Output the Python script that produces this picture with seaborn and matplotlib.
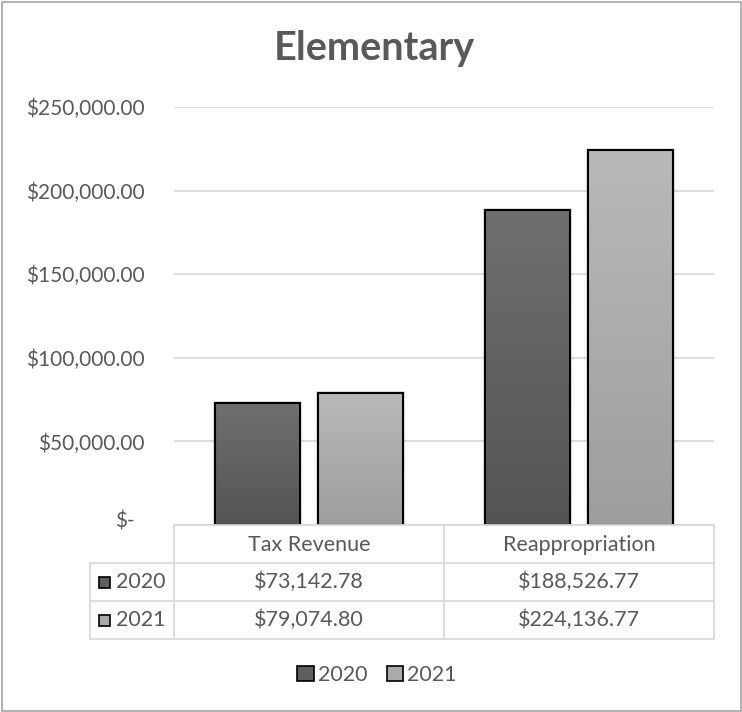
import numpy as np
import pandas as pd
import matplotlib
matplotlib.use("Agg")
import matplotlib.pyplot as plt
import seaborn as sns
from matplotlib.patches import Rectangle
from matplotlib.lines import Line2D
from matplotlib.ticker import FuncFormatter

# Data
categories = ["Tax Revenue", "Reappropriation"]
years = ["2020", "2021"]
values_2020 = [73142.78, 188526.77]
values_2021 = [79074.80, 224136.77]
y_ticks = [0, 50000, 100000, 150000, 200000, 250000]

df = pd.DataFrame({
    "category": categories * 2,
    "year": [years[0]] * 2 + [years[1]] * 2,
    "value": values_2020 + values_2021,
})

sns.set_theme(style="white")
plt.rcParams["font.family"] = ["Lato", "DejaVu Sans"]
text_color = "#595959"
grid_color = "#d9d9d9"
fs = 15.5

W, H = 742, 712
fig = plt.figure(figsize=(W / 100, H / 100), dpi=100)
fig.patch.set_facecolor("white")

def fx(px):
    return px / W

def fy(py):
    return 1 - py / H

left, right, top, bottom = 174, 714, 107, 525
ax = fig.add_axes([fx(left), fy(bottom), fx(right - left), (bottom - top) / H])

top_cols = {"2020": "#6f6f6f", "2021": "#b9b9b9"}
bot_cols = {"2020": "#545454", "2021": "#9e9e9e"}
palette = {"2020": "#5f5f5f", "2021": "#aaaaaa"}

sns.barplot(data=df, x="category", y="value", hue="year", order=categories,
            hue_order=years, palette=palette, width=0.763, gap=0.184,
            edgecolor="black", linewidth=1.5, legend=False, ax=ax, zorder=3)

ax.set_ylim(0, 250000)
ax.set_xlim(-0.5, 1.5)
ax.set_yticks(y_ticks)
ax.yaxis.grid(True, color=grid_color, linewidth=1.2, zorder=0)
ax.set_axisbelow(True)
for s in ax.spines.values():
    s.set_visible(False)
ax.set_xlabel("")
ax.set_ylabel("")
ax.set_xticks([])

def money(v, pos=None):
    if v == 0:
        return ""
    return f"${v:,.2f}"

ax.yaxis.set_major_formatter(FuncFormatter(money))
ax.tick_params(axis="y", length=0, pad=21, labelsize=15, labelcolor=text_color)
fig.text(fx(115), fy(521), "$-", fontsize=15, color=text_color, ha="left", va="center")

# Vertical gradient fill and soft shadow for each bar
bars = [p for p in ax.patches if isinstance(p, Rectangle)]
for i, p in enumerate(bars):
    yr = years[i // len(categories)]
    x0, y0 = p.get_x(), p.get_y()
    w, h = p.get_width(), p.get_height()
    c1 = np.array(matplotlib.colors.to_rgb(top_cols[yr]))
    c2 = np.array(matplotlib.colors.to_rgb(bot_cols[yr]))
    t = np.linspace(0, 1, 256)[:, None]
    grad = (c1 * (1 - t) + c2 * t)[:, None, :]
    im = ax.imshow(grad, extent=[x0, x0 + w, y0, y0 + h], origin="upper",
                   aspect="auto", zorder=3.5)
    im.set_clip_path(p)
    edge = Rectangle((x0, y0), w, h, facecolor="none", edgecolor="black",
                     linewidth=1.5, zorder=4)
    ax.add_patch(edge)
    for k, a in enumerate([0.08, 0.04, 0.02]):
        off = 0.005 * (k + 1)
        sh = Rectangle((x0 - off, y0), w + 2 * off, h + 400 * (k + 1),
                       facecolor="black", edgecolor="none", alpha=a, zorder=2.5)
        ax.add_patch(sh)
ax.set_xlim(-0.5, 1.5)
ax.set_ylim(0, 250000)

# Title
fig.text(fx(374), fy(60), "Elementary", fontsize=28.5, fontweight="bold",
         color=text_color, ha="center", va="baseline")

# Data table beneath the plot
def hline(y, x0, x1):
    fig.add_artist(Line2D([fx(x0), fx(x1)], [fy(y), fy(y)], color=grid_color,
                          linewidth=1.3, transform=fig.transFigure))

def vline(x, y0, y1):
    fig.add_artist(Line2D([fx(x), fx(x)], [fy(y0), fy(y1)], color=grid_color,
                          linewidth=1.3, transform=fig.transFigure))

hline(525, 174, 714)
for y in (563, 601, 639):
    hline(y, 90, 714)
for x in (174, 444, 714):
    vline(x, 525, 639)
vline(90, 563, 639)

centers = [309, 579]
for cx, cat in zip(centers, categories):
    fig.text(fx(cx), fy(545), cat, fontsize=fs, color=text_color,
             ha="center", va="center")
for ry, yr, vals in [(582, "2020", values_2020), (620, "2021", values_2021)]:
    for cx, v in zip(centers, vals):
        fig.text(fx(cx), fy(ry), f"${v:,.2f}", fontsize=fs,
                 color=text_color, ha="center", va="center")
    fig.add_artist(Rectangle((fx(99), fy(ry + 5.5)), fx(11), 11 / H,
                             facecolor=palette[yr], edgecolor="black",
                             linewidth=1.2, transform=fig.transFigure))
    fig.text(fx(116), fy(ry), yr, fontsize=fs, color=text_color,
             ha="left", va="center")

# Legend
handles = [Rectangle((0, 0), 1, 1, facecolor=palette[y], edgecolor="black",
                     linewidth=1.2) for y in years]
fig.legend(handles, years, loc="center", bbox_to_anchor=(fx(377), fy(675)),
           ncol=2, frameon=False, fontsize=fs, handlelength=0.75,
           handleheight=0.75, handletextpad=0.2, columnspacing=0.9,
           labelcolor=text_color)

# Chart border
fig.add_artist(Rectangle((fx(1.5), fy(710.5)), fx(739), 709 / H, facecolor="none",
                         edgecolor="#a6a6a6", linewidth=1.2,
                         transform=fig.transFigure))

fig.savefig("out.png", dpi=100)
